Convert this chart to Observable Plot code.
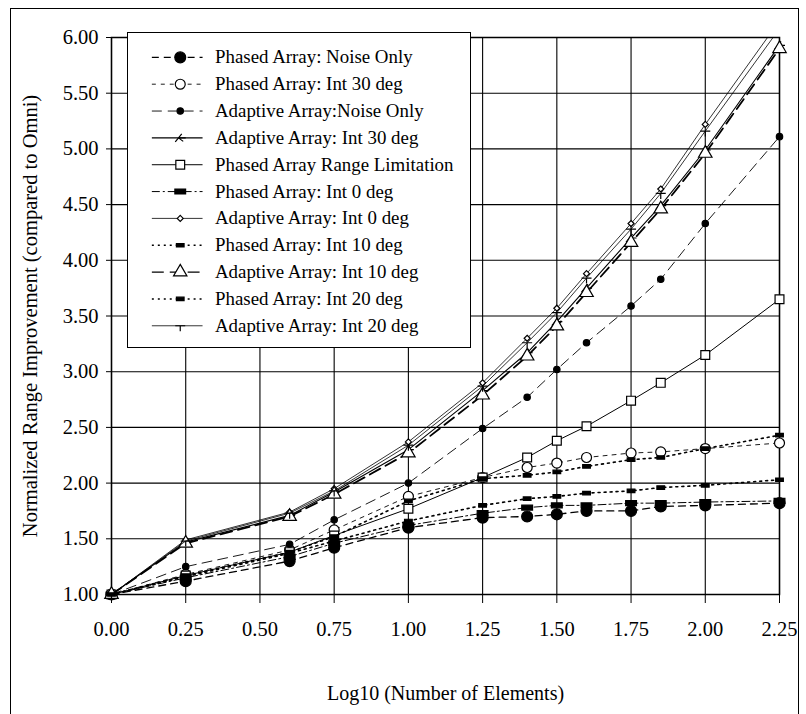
<!DOCTYPE html>
<html><head><meta charset="utf-8">
<script src="https://cdn.jsdelivr.net/npm/d3@7"></script>
<script src="https://cdn.jsdelivr.net/npm/@observablehq/plot@0.6"></script>
<style>
html,body{margin:0;padding:0;background:#fff;overflow:hidden;}
#wrap{position:relative;width:806px;height:714px;overflow:hidden;font-family:"Liberation Serif","Times New Roman",serif;}
#border{position:absolute;left:10px;top:8px;width:789px;height:760px;border:1px solid #000;box-sizing:border-box;}
#chart{position:absolute;left:0;top:0;}
#legend{position:absolute;left:127px;top:32px;width:344px;height:316px;background:#fff;border:1.5px solid #000;box-sizing:border-box;}
#legend svg{position:absolute;left:-1.5px;top:-1.5px;}
</style></head><body>
<div id="wrap"><div id="border"></div><div id="chart"></div><div id="legend"></div></div>
<script>
// ---- data ----
const xValues = [0, 0.25, 0.6, 0.75, 1.0, 1.25, 1.4, 1.5, 1.6, 1.75, 1.85, 2.0, 2.25];
const xTickValues = [0, 0.25, 0.5, 0.75, 1.0, 1.25, 1.5, 1.75, 2.0, 2.25];
const yTickValues = [1, 1.5, 2, 2.5, 3, 3.5, 4, 4.5, 5, 5.5, 6];
const seriesNames = [
  "Phased Array: Noise Only",
  "Phased Array: Int 30 deg",
  "Adaptive Array:Noise Only",
  "Adaptive Array: Int 30 deg",
  "Phased Array Range Limitation",
  "Phased Array: Int 0 deg",
  "Adaptive Array: Int 0 deg",
  "Phased Array: Int 10 deg",
  "Adaptive Array: Int 10 deg",
  "Phased Array: Int 20 deg",
  "Adaptive Array: Int 20 deg"
];
const phasedNoiseOnly   = [1.00, 1.12, 1.30, 1.42, 1.60, 1.69, 1.70, 1.72, 1.75, 1.75, 1.79, 1.80, 1.82];
const phasedInt30       = [1.00, 1.18, 1.40, 1.58, 1.88, 2.05, 2.14, 2.18, 2.23, 2.27, 2.28, 2.31, 2.36];
const adaptiveNoiseOnly = [1.00, 1.25, 1.45, 1.67, 2.00, 2.49, 2.77, 3.02, 3.26, 3.59, 3.83, 4.33, 5.11];
const adaptiveInt30     = [1.00, 1.47, 1.71, 1.92, 2.30, 2.83, 3.17, 3.45, 3.75, 4.20, 4.49, 4.99, 5.93];
const phasedRangeLimit  = [1.00, 1.17, 1.38, 1.53, 1.77, 2.05, 2.23, 2.38, 2.51, 2.74, 2.90, 3.15, 3.65];
const phasedInt0        = [1.00, 1.15, 1.34, 1.46, 1.62, 1.73, 1.78, 1.80, 1.80, 1.82, 1.82, 1.83, 1.84];
const adaptiveInt0      = [1.00, 1.49, 1.74, 1.95, 2.37, 2.90, 3.30, 3.57, 3.88, 4.33, 4.64, 5.22, 6.15];
const phasedInt10       = [1.00, 1.16, 1.37, 1.48, 1.66, 1.80, 1.86, 1.88, 1.91, 1.93, 1.96, 1.98, 2.03];
const adaptiveInt10     = [1.00, 1.46, 1.70, 1.90, 2.27, 2.79, 3.14, 3.41, 3.71, 4.16, 4.46, 4.96, 5.90];
const phasedInt20       = [1.00, 1.17, 1.38, 1.52, 1.84, 2.04, 2.07, 2.10, 2.15, 2.21, 2.23, 2.31, 2.43];
const adaptiveInt20     = [1.00, 1.48, 1.73, 1.93, 2.34, 2.87, 3.26, 3.53, 3.84, 4.28, 4.60, 5.16, 6.08];
const xTitle = "Log10 (Number of Elements)";
const yTitle = "Normalized Range Improvement (compared to Omni)";

// ---- custom symbols ----
const rOf = size => Math.sqrt(size / Math.PI);
const symRectWide = {draw(c, size){ const r = rOf(size); c.rect(-r*1.2, -r*0.55, r*2.4, r*1.1); }};
const symRectSmall = {draw(c, size){ const r = rOf(size); c.rect(-r*1.1, -r*0.5, r*2.2, r*1.0); }};
const symArrow = {draw(c, size){ const r = rOf(size); c.moveTo(-r, r*0.8); c.lineTo(r*0.3, -r*0.8); c.moveTo(-r*0.35, 0); c.lineTo(r*1.1, 0); c.moveTo(-r*0.35,0); c.lineTo(r*0.6, r*0.7);}};
const symT = {draw(c, size){ const r = rOf(size); c.moveTo(-r, 0); c.lineTo(r, 0); c.moveTo(0, 0); c.lineTo(0, r*1.1); }};
const symDiamond = {draw(c, size){ const r = rOf(size); c.moveTo(0,-r); c.lineTo(r,0); c.lineTo(0,r); c.lineTo(-r,0); c.closePath(); }};

const specs = [
  {values: phasedNoiseOnly,   dash: "7,5",        sw: 1.3, symbol: "circle",    r: 5.5, fill: "#000", stroke: "#000"},
  {values: phasedInt30,       dash: "4,5",        sw: 0.9, symbol: "circle",    r: 5,   fill: "#fff", stroke: "#000"},
  {values: adaptiveNoiseOnly, dash: "10,6",       sw: 0.9, symbol: "circle",    r: 3.2, fill: "#000", stroke: "#000"},
  {values: adaptiveInt30,     dash: null,         sw: 1.1, symbol: symArrow,    r: 5,   fill: "none", stroke: "#000"},
  {values: phasedRangeLimit,  dash: null,         sw: 1.0, symbol: "square",    r: 5,   fill: "#fff", stroke: "#000"},
  {values: phasedInt0,        dash: "8,3,2,3",    sw: 1.0, symbol: symRectWide, r: 4.5, fill: "#000", stroke: "#000"},
  {values: adaptiveInt0,      dash: null,         sw: 0.8, symbol: symDiamond,  r: 3,   fill: "#fff", stroke: "#000"},
  {values: phasedInt10,       dash: "2,4",        sw: 1.6, symbol: symRectSmall,r: 3.5, fill: "#000", stroke: "#000"},
  {values: adaptiveInt10,     dash: "12,6",       sw: 1.8, symbol: "triangle",  r: 5,   fill: "#fff", stroke: "#000"},
  {values: phasedInt20,       dash: "2,4",        sw: 1.6, symbol: symRectSmall,r: 3.5, fill: "#000", stroke: "#000"},
  {values: adaptiveInt20,     dash: null,         sw: 0.8, symbol: symT,        r: 5,   fill: "none", stroke: "#000"}
].map((s, i) => ({...s, name: seriesNames[i]}));

const rowsOf = s => xValues.map((x, i) => ({x, y: s.values[i], series: s.name}));

const fontFamily = "Liberation Serif, Times New Roman, serif";
const fmt = d => d.toFixed(2);

const seriesMarks = specs.flatMap(s => {
  const rows = rowsOf(s);
  return [
    Plot.line(rows, {x: "x", y: "y", stroke: "#000", strokeWidth: s.sw, strokeDasharray: s.dash || undefined, clip: true}),
    Plot.dot(rows.filter(d => d.y <= 6), {x: "x", y: "y", symbol: s.symbol, r: s.r, fill: s.fill, stroke: s.stroke, strokeWidth: 1.2})
  ];
});

const chart = Plot.plot({
  width: 806, height: 714,
  marginLeft: 111, marginRight: 27, marginTop: 37, marginBottom: 120,
  style: {fontFamily, background: "transparent", color: "#000"},
  x: {domain: [0, 2.25]},
  y: {domain: [1, 6]},
  marks: [
    Plot.gridX(xTickValues, {stroke: "#000", strokeOpacity: 1, strokeWidth: 1.1}),
    Plot.gridY(yTickValues, {stroke: "#000", strokeOpacity: 1, strokeWidth: 1.1}),
    Plot.frame({stroke: "#000", strokeWidth: 1.5}),
    Plot.axisX(xTickValues, {tickFormat: fmt, tickSize: 9, tickPadding: 18, fontSize: 20.5, label: null}),
    Plot.axisY(yTickValues, {tickFormat: fmt, tickSize: 5, tickPadding: 8, fontSize: 20.5, label: null}),
    ...seriesMarks,
    Plot.text([xTitle], {frameAnchor: "bottom", dy: 99, text: d => d, fontSize: 20, textAnchor: "middle", lineAnchor: "middle"}),
    Plot.text([yTitle], {frameAnchor: "left", dx: -81, rotate: -90, text: d => d, fontSize: 20.5, textAnchor: "middle", lineAnchor: "middle"})
  ]
});
document.getElementById("chart").append(chart);

// ---- legend ----
const legend = Plot.plot({
  width: 344, height: 316, margin: 0,
  style: {fontFamily, background: "transparent", color: "#000"},
  x: {domain: [0, 1], range: [25, 76], axis: null},
  y: {type: "point", domain: seriesNames, range: [20, 299], padding: 0, axis: null},
  marks: [
    ...specs.flatMap(s => [
      Plot.ruleY([s.name], {y: d => d, x1: 0, x2: 1, stroke: "#000", strokeWidth: Math.min(s.sw, 1.4), strokeDasharray: s.dash || undefined}),
      Plot.dot([s.name], {y: d => d, x: 0.55, symbol: s.symbol, r: s.r, fill: s.fill, stroke: s.stroke, strokeWidth: 1.2})
    ]),
    Plot.text(seriesNames, {y: d => d, x: 1, dx: 12, text: d => d, textAnchor: "start", fontSize: 19})
  ]
});
document.getElementById("legend").append(legend);
</script>
</body></html>
